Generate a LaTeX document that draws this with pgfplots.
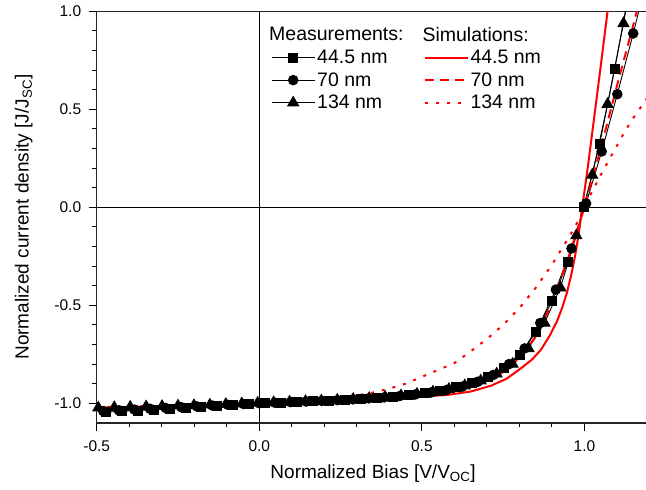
\documentclass[border=0pt]{standalone}
\usepackage{fontspec}
\setmainfont{Liberation Sans}
\usepackage{pgfplots}
\pgfplotsset{compat=1.18}
\begin{document}
\begin{tikzpicture}
\begin{axis}[
  scale only axis, width=552.8pt, height=411.6pt,
  xmin=-0.5, xmax=1.2, ymin=-1.1, ymax=1.0,
  xtick={-0.5,0,0.5,1.0}, ytick={-1,-0.5,0,0.5,1},
  minor x tick num=4, minor y tick num=4,
  xtick pos=bottom, ytick pos=left, tick align=outside,
  major tick length=8pt, minor tick length=4.5pt,
  every tick/.style={black, line width=1pt},
  axis line style={line width=1.5pt, black!85},
  /pgf/number format/assume math mode=true,
  tick label style={font=\fontsize{15.5}{18}\selectfont, /pgf/number format/fixed, /pgf/number format/fixed zerofill, /pgf/number format/precision=1},
  xticklabel style={yshift=-6pt},
  yticklabel style={xshift=-4pt},
  label style={font=\fontsize{19}{22}\selectfont},
  xlabel={Normalized Bias [V/V\textsubscript{OC}]},
  ylabel={Normalized current density [J/J\textsubscript{SC}]},
  xlabel shift=6pt, ylabel shift=15pt,
  legend style={draw=none, fill=none, at={(0.31,0.972)}, anchor=north west,
    font=\fontsize{19.5}{22}\selectfont, legend columns=2, row sep=3.5pt,
    /tikz/every even column/.append style={column sep=18pt}},
  legend cell align=left,
  legend image code/.code={\draw[mark repeat=2,mark phase=2] plot coordinates {(0pt,0pt) (21.5pt,0pt) (43pt,0pt)};},
  clip=true,
]
% zero lines
\addplot[black, line width=1.2pt, forget plot] coordinates {(0,-1.1) (0,1.0)};
\addplot[black, line width=1.2pt, forget plot] coordinates {(-0.5,0) (1.2,0)};

% measurements
\addplot[black, line width=0.9pt, mark=square*, mark size=4.5pt, forget plot] coordinates {
(-0.472,-1.045) (-0.423,-1.041) (-0.374,-1.037) (-0.325,-1.032) (-0.276,-1.028) (-0.227,-1.024) (-0.178,-1.019) (-0.129,-1.014) (-0.080,-1.009) (-0.031,-1.004) (0.018,-1.0) (0.067,-0.997) (0.116,-0.993) (0.165,-0.99) (0.214,-0.986) (0.263,-0.982) (0.312,-0.977) (0.361,-0.972) (0.410,-0.966) (0.459,-0.958) (0.508,-0.948) (0.557,-0.935) (0.606,-0.918) (0.655,-0.895) (0.704,-0.865) (0.753,-0.82) (0.802,-0.755) (0.851,-0.635) (0.900,-0.48) (0.949,-0.28) (0.998,0.0) (1.047,0.325) (1.093,0.706) (1.138,1.11)
};
\addplot[black, line width=0.9pt, mark=*, mark size=4.8pt, forget plot] coordinates {
(-0.48,-1.04) (-0.432,-1.036) (-0.384,-1.032) (-0.336,-1.028) (-0.288,-1.024) (-0.24,-1.02) (-0.192,-1.016) (-0.144,-1.012) (-0.096,-1.008) (-0.048,-1.004) (0,-1.0) (0.048,-0.997) (0.096,-0.994) (0.144,-0.991) (0.192,-0.988) (0.24,-0.984) (0.288,-0.98) (0.336,-0.975) (0.384,-0.97) (0.432,-0.963) (0.48,-0.955) (0.528,-0.945) (0.576,-0.932) (0.624,-0.915) (0.672,-0.89) (0.72,-0.855) (0.768,-0.80) (0.816,-0.72) (0.864,-0.59) (0.912,-0.42) (0.96,-0.21) (1.005,0.02) (1.053,0.285) (1.101,0.577) (1.15,0.887) (1.2,1.22)
};
\addplot[black, line width=0.9pt, mark=triangle*, mark size=6.3pt, forget plot] coordinates {
(-0.495,-1.023) (-0.446,-1.021) (-0.397,-1.019) (-0.348,-1.017) (-0.299,-1.015) (-0.25,-1.013) (-0.201,-1.011) (-0.152,-1.008) (-0.103,-1.005) (-0.054,-1.002) (-0.005,-0.999) (0.044,-0.996) (0.093,-0.993) (0.142,-0.99) (0.191,-0.987) (0.24,-0.983) (0.289,-0.979) (0.338,-0.974) (0.387,-0.968) (0.436,-0.961) (0.485,-0.953) (0.534,-0.942) (0.583,-0.928) (0.632,-0.91) (0.681,-0.885) (0.73,-0.85) (0.779,-0.80) (0.828,-0.72) (0.877,-0.59) (0.926,-0.41) (0.975,-0.144) (1.024,0.165) (1.071,0.526) (1.12,0.938) (1.17,1.4)
};

% simulations
\addplot[red, line width=2pt, forget plot] coordinates {
(-0.5,-1.022) (-0.25,-1.012) (0,-1.003) (0.2,-0.99) (0.373,-0.978) (0.5,-0.966) (0.58,-0.957) (0.65,-0.94) (0.713,-0.91) (0.76,-0.875) (0.806,-0.82) (0.84,-0.775) (0.867,-0.725) (0.893,-0.655) (0.916,-0.58) (0.932,-0.51) (0.947,-0.43) (0.96,-0.34) (0.972,-0.24) (0.983,-0.13) (0.993,0.0) (1.01,0.2) (1.03,0.46) (1.05,0.72) (1.071,1.0) (1.085,1.18)
};
\addplot[red, line width=2pt, dash pattern=on 9pt off 6pt, forget plot] coordinates {
(-0.5,-1.025) (-0.25,-1.013) (0,-1.002) (0.2,-0.99) (0.4,-0.972) (0.5,-0.958) (0.6,-0.935) (0.65,-0.915) (0.7,-0.885) (0.75,-0.84) (0.8,-0.77) (0.85,-0.66) (0.9,-0.49) (0.95,-0.26) (0.975,-0.13) (1.0,0.0) (1.05,0.3) (1.1,0.62) (1.15,0.93) (1.17,1.06)
};
\addplot[red, line width=2pt, dash pattern=on 3pt off 8pt, forget plot] coordinates {
(-0.5,-1.02) (-0.25,-1.01) (0,-1.0) (0.1,-0.993) (0.2,-0.981) (0.25,-0.972) (0.3,-0.96) (0.35,-0.945) (0.4,-0.925) (0.45,-0.9) (0.5,-0.865) (0.55,-0.83) (0.6,-0.795) (0.65,-0.735) (0.7,-0.672) (0.75,-0.6) (0.8,-0.514) (0.85,-0.411) (0.9,-0.293) (0.95,-0.158) (0.971,-0.1) (1.0,0.0) (1.025,0.085) (1.05,0.165) (1.075,0.24) (1.1,0.315) (1.125,0.39) (1.15,0.455) (1.175,0.515) (1.2,0.575)
};

% legend
\addlegendimage{empty legend}\addlegendentry{\hspace*{-48pt}Measurements:}
\addlegendimage{empty legend}\addlegendentry{\hspace*{-48pt}Simulations:}
\addlegendimage{black, line width=0.9pt, mark=square*, mark size=4.5pt}\addlegendentry{44.5 nm}
\addlegendimage{red, line width=2pt}\addlegendentry{44.5 nm}
\addlegendimage{black, line width=0.9pt, mark=*, mark size=4.8pt}\addlegendentry{70 nm}
\addlegendimage{red, line width=2pt, dash pattern=on 9pt off 6pt}\addlegendentry{70 nm}
\addlegendimage{black, line width=0.9pt, mark=triangle*, mark size=6.3pt}\addlegendentry{134 nm}
\addlegendimage{red, line width=2pt, dash pattern=on 3pt off 8pt}\addlegendentry{134 nm}
\end{axis}
\pgfresetboundingbox
\path[use as bounding box] ([shift={(-96.7pt,-66.3pt)}]current axis.south west) rectangle ([shift={(549.3pt,11.3pt)}]current axis.north west);
\end{tikzpicture}
\end{document}
